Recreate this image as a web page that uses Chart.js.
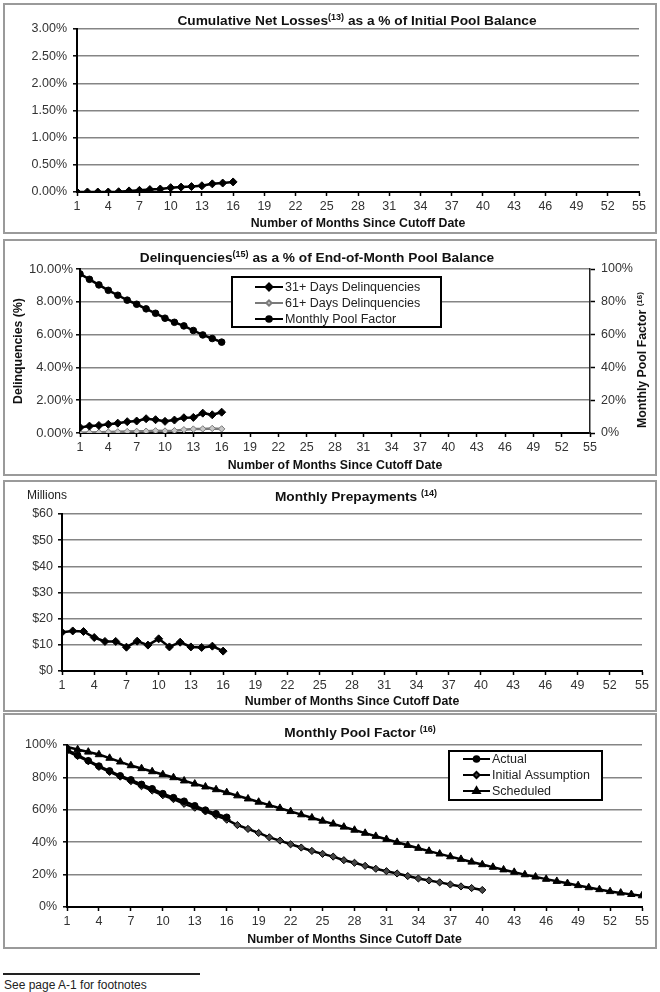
<!DOCTYPE html>
<html>
<head>
<meta charset="utf-8">
<script src="https://cdn.jsdelivr.net/npm/chart.js@4.4.0/dist/chart.umd.min.js"></script>
<style>
  body { margin: 0; width: 660px; height: 992px; background: #fff; position: relative; font-family: 'Liberation Sans', Arial, sans-serif; color: #111; }
  .panel { position: absolute; left: 3px; width: 650px; border: 2px solid #9a9a9a; background: #fff; }
  .panel canvas { position: absolute; left: 0; top: 0; }
  .ttl { position: absolute; width: 500px; text-align: center; font-weight: bold; font-size: 13.7px; line-height: 16px; white-space: nowrap; }
  .ttl sup { font-size: 9px; vertical-align: 5px; line-height: 0; }
  .rot { position: absolute; width: 200px; text-align: center; font-weight: bold; font-size: 12.3px; line-height: 14px; transform: rotate(-90deg); white-space: nowrap; }
  .rot sup { font-size: 8px; vertical-align: 4px; line-height: 0; }
  .note { position: absolute; font-size: 12px; color: #222; }
</style>
</head>
<body>

<div class="panel" style="top:3px;height:227px"><canvas id="loss-chart" width="650" height="227"></canvas></div>
<div class="panel" style="top:239px;height:233px"><canvas id="delinq-chart" width="650" height="233"></canvas></div>
<div class="panel" style="top:480px;height:228px"><canvas id="prepay-chart" width="650" height="228"></canvas></div>
<div class="panel" style="top:713px;height:232px"><canvas id="factor-chart" width="650" height="232"></canvas></div>

<div class="ttl" style="left:107px;top:13px">Cumulative Net Losses<sup>(13)</sup> as a % of Initial Pool Balance</div>
<div class="ttl" style="left:67px;top:250px">Delinquencies<sup>(15)</sup> as a % of End-of-Month Pool Balance</div>
<div class="ttl" style="left:106px;top:489px">Monthly Prepayments <sup>(14)</sup></div>
<div class="ttl" style="left:110px;top:725px">Monthly Pool Factor <sup>(16)</sup></div>
<div class="rot" style="left:542px;top:353px">Monthly Pool Factor <sup>(16)</sup></div>
<div class="note" style="left:27px;top:488px">Millions</div>

<div style="position:absolute;left:3px;top:973px;width:197px;height:2px;background:#222"></div>
<div class="note" style="left:4px;top:978px">See page A-1 for footnotes</div>

<script>
// Months since cutoff date
var months = [1, 2, 3, 4, 5, 6, 7, 8, 9, 10, 11, 12, 13, 14, 15, 16, 17, 18, 19, 20,
              21, 22, 23, 24, 25, 26, 27, 28, 29, 30, 31, 32, 33, 34, 35, 36, 37, 38, 39, 40,
              41, 42, 43, 44, 45, 46, 47, 48, 49, 50, 51, 52, 53, 54, 55];

// Cumulative net losses (% of initial pool balance)
var cumNetLoss = [0.00, 0.00, 0.00, 0.00, 0.005, 0.02, 0.03, 0.045, 0.055, 0.08, 0.09, 0.10, 0.115, 0.15, 0.165, 0.185];

// Delinquencies (%) and pool factor (%)
var delinq31 = [0.34, 0.42, 0.46, 0.53, 0.60, 0.69, 0.73, 0.87, 0.81, 0.71, 0.79, 0.93, 0.95, 1.21, 1.11, 1.27];
var delinq61 = [0.01, 0.03, 0.04, 0.06, 0.07, 0.09, 0.10, 0.11, 0.13, 0.12, 0.14, 0.20, 0.24, 0.25, 0.28, 0.25];
var poolFactor = [97.0, 93.7, 90.3, 87.0, 84.0, 81.0, 78.5, 75.7, 73.0, 70.0, 67.5, 65.3, 62.5, 59.8, 57.6, 55.4];

// Monthly prepayments ($ millions)
var prepayments = [14.8, 15.3, 15.1, 12.8, 11.3, 11.3, 9.1, 11.4, 9.9, 12.3, 9.2, 11.0, 9.2, 9.0, 9.5, 7.6];

// Pool factor curves (%)
var initialAssumption = [96.3, 93.2, 90.0, 86.5, 83.4, 80.5, 77.7, 74.6, 71.9, 69.0, 66.6, 63.7, 61.3, 59.0, 56.4, 53.9,
                         50.6, 48.2, 45.7, 43.0, 41.0, 38.7, 36.7, 34.6, 32.8, 31.1, 28.9, 27.3, 25.4, 23.6, 22.1, 20.7,
                         19.1, 17.6, 16.4, 15.2, 13.9, 12.7, 11.7, 10.5];
var scheduled = [98.8, 97.2, 95.7, 94.1, 91.9, 89.6, 87.3, 85.5, 83.6, 81.8, 79.9, 77.9, 76.0, 74.2, 72.5, 70.7,
                 68.7, 66.8, 64.8, 62.9, 61.0, 59.0, 57.0, 55.1, 53.1, 51.3, 49.4, 47.5, 45.6, 43.7, 41.8, 40.0,
                 38.1, 36.3, 34.5, 32.8, 31.1, 29.5, 27.8, 26.2, 24.6, 23.0, 21.5, 20.0, 18.6, 17.2, 15.9, 14.6,
                 13.3, 12.0, 10.8, 9.6, 8.7, 7.8, 7.0];

Chart.defaults.font.family = "'Liberation Sans', Arial, sans-serif";
Chart.defaults.font.size = 12;
Chart.defaults.color = '#333';

// Boxed legend drawn inside the plot
var boxLegend = {
    id: 'boxLegend',
    afterDatasetsDraw: function(chart, args, opts) {
        if (!opts.rows) return;
        var ctx = chart.ctx;
        ctx.save();
        ctx.fillStyle = '#fff';
        ctx.fillRect(opts.x, opts.y, opts.w, opts.h);
        ctx.lineWidth = 2;
        ctx.strokeStyle = '#000';
        ctx.strokeRect(opts.x, opts.y, opts.w, opts.h);
        chart.data.datasets.forEach(function(ds, i) {
            var y = opts.rows[i];
            ctx.strokeStyle = ds.borderColor;
            ctx.lineWidth = 2;
            ctx.beginPath();
            ctx.moveTo(opts.lineX, y);
            ctx.lineTo(opts.lineX + opts.lineW, y);
            ctx.stroke();
            ctx.fillStyle = ds.pointBackgroundColor;
            ctx.strokeStyle = ds.pointBorderColor;
            Chart.helpers.drawPoint(ctx, { pointStyle: ds.pointStyle, radius: ds.pointRadius - 0.5, borderWidth: 1, rotation: 0 },
                opts.lineX + opts.lineW / 2, y);
            ctx.fillStyle = '#222';
            ctx.font = "12.5px 'Liberation Sans', Arial, sans-serif";
            ctx.textBaseline = 'middle';
            ctx.fillText(ds.label, opts.lineX + opts.lineW + 2, y + 1);
        });
        ctx.restore();
    }
};

function xAxis(height, padBottom) {
    return {
        type: 'linear', min: 1, max: 55,
        afterFit: function(scale) { scale.height = height; },
        ticks: { stepSize: 3, autoSkip: false, maxRotation: 0, padding: 3, color: '#333', font: { size: 12.5 } },
        grid: { drawOnChartArea: false, tickLength: 4, tickColor: '#000', tickWidth: 1.5 },
        border: { color: '#000', width: 2 },
        title: { display: true, text: 'Number of Months Since Cutoff Date', color: '#111',
                 font: { weight: 'bold', size: 12.3 }, padding: { top: 0, bottom: padBottom } }
    };
}

function yAxis(width, max, step, fmt, pad) {
    return {
        min: 0, max: max,
        afterFit: function(scale) { scale.width = width; },
        ticks: { stepSize: step, padding: pad, color: '#333', callback: fmt, font: { size: 12.5 } },
        grid: { color: '#858585', lineWidth: 1.6, tickLength: 4, tickColor: '#000', tickWidth: 1.5 },
        border: { color: '#000', width: 2 }
    };
}

function lineSet(label, data, style, color, fill, radius, axis) {
    return {
        label: label, data: data, yAxisID: axis || 'y',
        borderColor: color, borderWidth: 2.5, tension: 0,
        pointStyle: style, pointRadius: radius, pointHoverRadius: radius,
        pointBackgroundColor: fill, pointBorderColor: color, pointBorderWidth: 1
    };
}

var basePlugins = { legend: { display: false }, tooltip: { enabled: false } };

// Cumulative net losses
new Chart(document.getElementById('loss-chart'), {
    type: 'line',
    data: { labels: months, datasets: [lineSet('Cumulative Net Losses', cumNetLoss, 'rectRot', '#000', '#000', 4)] },
    options: {
        responsive: false, animation: false,
        layout: { padding: { top: 24, right: 16, left: 0, bottom: 0 } },
        plugins: basePlugins,
        scales: {
            x: xAxis(40, 1),
            y: yAxis(72, 3, 0.5, function(v) { return v.toFixed(2) + '%'; }, 6)
        }
    }
});

// Delinquencies with pool factor on the right axis
var delinqRight = yAxis(65, 100, 20, function(v) { return v + '%'; }, 6);
delinqRight.position = 'right';
delinqRight.grid = { drawOnChartArea: false, tickLength: 5, tickColor: '#000', tickWidth: 1.5 };
delinqRight.border = { color: '#222', width: 1.5 };
var delinqLeft = yAxis(75, 10, 2, function(v) { return v.toFixed(2) + '%'; }, 3);
delinqLeft.ticks.font = { size: 13 };
delinqLeft.title = { display: true, text: 'Delinquencies (%)', color: '#111', font: { weight: 'bold', size: 12.3 }, padding: { top: 6, bottom: 0 } };

new Chart(document.getElementById('delinq-chart'), {
    type: 'line',
    data: {
        labels: months,
        datasets: [
            lineSet('31+ Days Delinquencies', delinq31, 'rectRot', '#000', '#000', 4),
            lineSet('61+ Days Delinquencies', delinq61, 'rectRot', '#7a7a7a', '#c8c8c8', 3.2),
            lineSet('Monthly Pool Factor', poolFactor, 'circle', '#000', '#000', 3.3, 'y1')
        ]
    },
    options: {
        responsive: false, animation: false,
        layout: { padding: { top: 28, right: 0, left: 0, bottom: 0 } },
        plugins: {
            legend: { display: false }, tooltip: { enabled: false },
            boxLegend: { x: 227, y: 36, w: 209, h: 50, lineX: 250, lineW: 28, rows: [46, 62, 78] }
        },
        scales: { x: xAxis(41, 1), y: delinqLeft, y1: delinqRight }
    },
    plugins: [boxLegend]
});

// Monthly prepayments
new Chart(document.getElementById('prepay-chart'), {
    type: 'line',
    data: { labels: months, datasets: [lineSet('Monthly Prepayments', prepayments, 'rectRot', '#000', '#000', 4)] },
    options: {
        responsive: false, animation: false,
        layout: { padding: { top: 32, right: 13, left: 0, bottom: 0 } },
        plugins: basePlugins,
        scales: {
            x: xAxis(39, 1),
            y: yAxis(57, 60, 10, function(v) { return '$' + v; }, 5)
        }
    }
});

// Monthly pool factor
new Chart(document.getElementById('factor-chart'), {
    type: 'line',
    data: {
        labels: months,
        datasets: [
            lineSet('Actual', poolFactor, 'circle', '#000', '#000', 3.3),
            lineSet('Initial Assumption', initialAssumption, 'rectRot', '#000', '#444', 3.6),
            lineSet('Scheduled', scheduled, 'triangle', '#000', '#000', 4.3)
        ]
    },
    options: {
        responsive: false, animation: false,
        layout: { padding: { top: 30, right: 13, left: 0, bottom: 0 } },
        plugins: {
            legend: { display: false }, tooltip: { enabled: false },
            boxLegend: { x: 444, y: 36, w: 153, h: 49, lineX: 458, lineW: 27, rows: [44, 60, 76] }
        },
        scales: {
            x: xAxis(40, 0),
            y: yAxis(62, 100, 20, function(v) { return v + '%'; }, 6)
        }
    },
    plugins: [boxLegend]
});
</script>
</body>
</html>
